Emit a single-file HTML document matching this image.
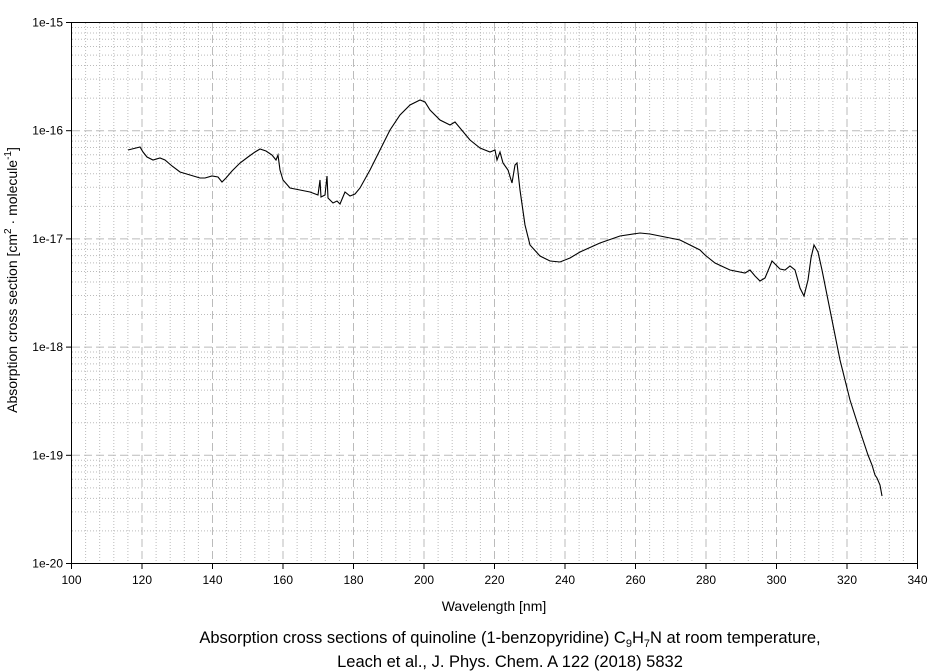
<!DOCTYPE html>
<html><head><meta charset="utf-8"><style>
body{margin:0;background:#fff;}
svg{display:block;font-family:"Liberation Sans",Arial,sans-serif;}
</style></head><body>
<svg width="940" height="672" viewBox="0 0 940 672" xmlns="http://www.w3.org/2000/svg">
<g id="grid"></g>
<rect x="71.5" y="22.5" width="846" height="541" fill="none" stroke="#000" stroke-width="1"/>
<g id="ticks" stroke="#000"></g>
<g id="labels" font-size="12" fill="#000"></g>
<path fill="none" stroke="#000" stroke-width="1.1" d="M128,150 L132,149 L140,147 L143,152 L147,157 L153,160 L160,158 L165,160 L172,166 L180,172 L190,175 L200,178 L205,178 L212,176 L218,177 L222,182 L226,178 L232,171 L240,163 L248,157 L255,152 L260,149 L266,151 L272,155 L276,160 L278,155 L280,170 L283,180 L290,188 L300,190 L310,192 L318,195 L320,180 L321,197 L325,195 L327,176 L328,198 L333,203 L337,201 L340,204 L345,192 L350,196 L355,194 L360,188 L370,170 L380,150 L390,130 L400,115 L410,105 L420,100 L425,102 L430,110 L440,120 L450,125 L455,122 L460,128 L470,140 L480,148 L490,152 L495,150 L497,160 L500,152 L503,163 L508,170 L512,183 L515,165 L517,163 L520,190 L525,225 L530,245 L540,256 L550,261 L560,262 L570,258 L580,252 L600,243 L620,236 L640,233 L650,234 L660,236 L680,240 L700,250 L705,255 L715,263 L730,270 L745,273 L750,270 L755,276 L760,281 L765,278 L770,266 L772,261 L775,264 L780,269 L785,270 L790,266 L795,270 L800,288 L804,296 L808,280 L811,258 L814,245 L818,252 L822,270 L830,310 L840,360 L850,400 L858,425 L863,440 L868,455 L872,465 L875,475 L877,478 L880,485 L882,496"/>
<text x="494" y="611" font-size="14" text-anchor="middle">Wavelength [nm]</text>
<text transform="translate(17,280) rotate(-90)" font-size="14" text-anchor="middle">Absorption cross section [cm<tspan dy="-6" font-size="10">2</tspan><tspan dy="6"> · molecule</tspan><tspan dy="-6" font-size="10">-1</tspan><tspan dy="6">]</tspan></text>
<text x="510" y="643" font-size="16.5" text-anchor="middle">Absorption cross sections of quinoline (1-benzopyridine) C<tspan dy="4" font-size="11">9</tspan><tspan dy="-4">H</tspan><tspan dy="4" font-size="11">7</tspan><tspan dy="-4">N at room temperature,</tspan></text>
<text x="510" y="667" font-size="16.5" text-anchor="middle">Leach et al., J. Phys. Chem. A 122 (2018) 5832</text>
</svg>
<script>
const ns="http://www.w3.org/2000/svg";
const g=document.getElementById('grid'),t=document.getElementById('ticks'),l=document.getElementById('labels');
function ln(p,x1,y1,x2,y2,s,d){const e=document.createElementNS(ns,'line');e.setAttribute('x1',x1);e.setAttribute('y1',y1);e.setAttribute('x2',x2);e.setAttribute('y2',y2);e.setAttribute('stroke',s);if(d)e.setAttribute('stroke-dasharray',d);p.appendChild(e);}
function tx(x,y,s,a){const e=document.createElementNS(ns,'text');e.setAttribute('x',x);e.setAttribute('y',y);e.setAttribute('text-anchor',a);e.textContent=s;l.appendChild(e);}
const X=w=>71.5+3.525*(w-100);
for(let w=104;w<340;w+=4){if((w-100)%20)ln(g,X(w),23,X(w),563,'#bbb','1,2');}
const Y=lg=>22.5+(-15-lg)*108.2;
for(let d=-20;d<-15;d++){for(let k=2;k<10;k++){const y=Y(d+Math.log10(k));ln(g,72,y,917,y,'#bbb','1,2');}}
for(let w=120;w<340;w+=20)ln(g,X(w),23,X(w),563,'#bbb','8,4');
for(let d=-19;d<-15;d++)ln(g,72,Y(d),917,Y(d),'#bbb','8,4');
for(let w=100;w<=340;w+=20){ln(t,X(w),563.5,X(w),569,'#000');tx(X(w),584,String(w),'middle');}
for(let d=-20;d<=-15;d++){ln(t,66,Y(d),71.5,Y(d),'#000');tx(63,Y(d)+4,'1e'+d,'end');}
</script>
</body></html>
